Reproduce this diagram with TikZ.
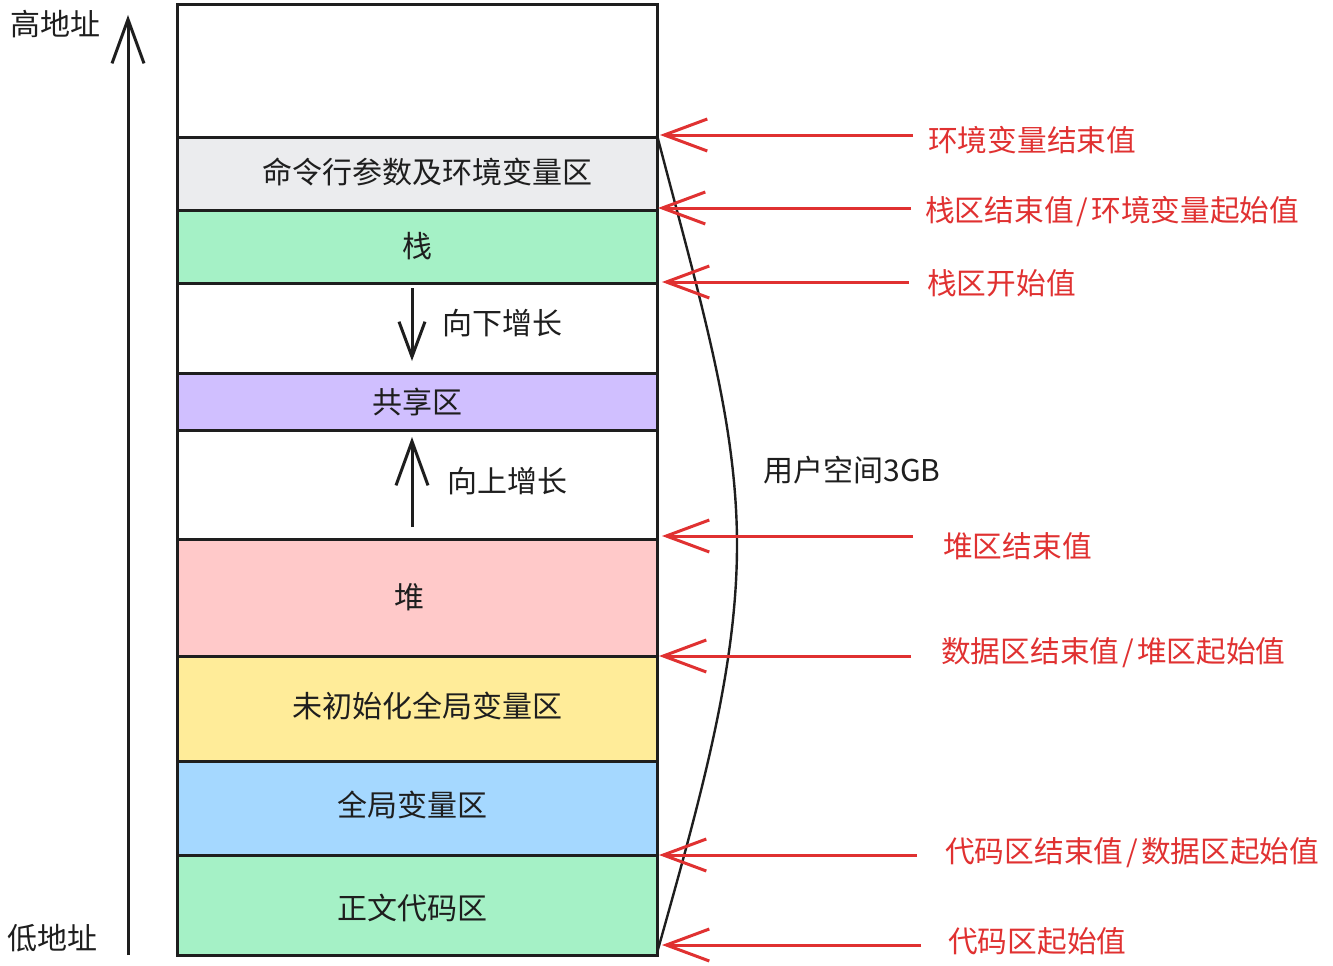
\documentclass[tikz,border=0pt]{standalone}
\usepackage{fontspec}
\setmainfont{Noto Sans CJK SC}
\usetikzlibrary{arrows.meta}
\definecolor{cgray}{HTML}{EBECEE}
\definecolor{cgreen}{HTML}{A5F1C6}
\definecolor{cpurple}{HTML}{D0BFFF}
\definecolor{cpink}{HTML}{FFC9C9}
\definecolor{cyellow}{HTML}{FFEC99}
\definecolor{cblue}{HTML}{A5D8FF}
\definecolor{cred}{HTML}{E03131}
\definecolor{cink}{HTML}{1E1E1E}
\newcommand{\slsh}{\hspace{3pt}/\hspace{3pt}}
\tikzset{
  seg/.style={draw=cink, line width=3pt},
  txt/.style={font=\fontsize{30}{32}\selectfont, text=cink, inner sep=0pt},
  rtxt/.style={font=\fontsize{29.7}{32}\selectfont, text=cred, inner sep=0pt, anchor=west},
  redarr/.style={draw=cred, line width=3pt, -{Straight Barb[length=43pt,width=32pt,line width=3pt]}},
  blkarr/.style={draw=cink, line width=3pt, -{Straight Barb[length=44pt,width=32pt,line width=3pt]}},
  smallarr/.style={draw=cink, line width=3pt, -{Straight Barb[length=35pt,width=26pt,line width=3pt]}},
}
\begin{document}
\begin{tikzpicture}[x=1pt,y=-1pt]
\useasboundingbox (0,0) rectangle (1333,966);
% boxes
\path[seg, fill=white] (177,5) rectangle (657,137);
\path[seg, fill=cgray] (177,137) rectangle (657,210);
\path[seg, fill=cgreen] (177,210) rectangle (657,283);
\path[seg, fill=white] (177,283) rectangle (657,373);
\path[seg, fill=cpurple] (177,373) rectangle (657,430);
\path[seg, fill=white] (177,430) rectangle (657,539);
\path[seg, fill=cpink] (177,539) rectangle (657,656);
\path[seg, fill=cyellow] (177,656) rectangle (657,761);
\path[seg, fill=cblue] (177,761) rectangle (657,855);
\path[seg, fill=cgreen] (177,855) rectangle (657,955);
% box labels
\node[txt] (env) at (427,172) {命令行参数及环境变量区};
\node[txt] (stack) at (417,246) {栈};
\node[txt] (down) at (502,323) {向下增长};
\node[txt] (shared) at (417,402) {共享区};
\node[txt] (up) at (507,481) {向上增长};
\node[txt] (heap) at (409,597) {堆};
\node[txt] (bss) at (427,706) {未初始化全局变量区};
\node[txt] (data) at (412,805) {全局变量区};
\node[txt] (text) at (412,908) {正文代码区};
% growth arrows
\coordinate (d0) at (412,288); \coordinate (d1) at (412,361);
\draw[smallarr] (d0) -- (d1);
\coordinate (u0) at (412,527); \coordinate (u1) at (412,437);
\draw[blkarr] (u0) -- (u1);
% address axis
\node[txt] (hi) at (55,24) {高地址};
\node[txt] (lo) at (53,938) {低地址};
\coordinate (a0) at (128,955); \coordinate (a1) at (128,15);
\draw[blkarr] (a0) -- (a1);
% user space curve
\coordinate (c0) at (657,135); \coordinate (cm) at (737,545); \coordinate (c1) at (657,953);
\draw[draw=cink, line width=2.4pt] (c0) .. controls (700,300) and (737,420) .. (cm) .. controls (737,670) and (700,800) .. (c1);
\node[txt] (user) at (852,470) {用户空间3GB};
% red labels and arrows
\node[rtxt] (r1) at (928,140) {环境变量结束值};
\node[rtxt] (r2) at (925,212) {栈区结束值\slsh 环境变量起始值};
\node[rtxt] (r3) at (927,283) {栈区开始值};
\node[rtxt] (r4) at (943,546) {堆区结束值};
\node[rtxt] (r5) at (941,653) {数据区结束值\slsh 堆区起始值};
\node[rtxt] (r6) at (945,853) {代码区结束值\slsh 数据区起始值};
\node[rtxt] (r7) at (948,941) {代码区起始值};
\coordinate (s1) at (913,135); \coordinate (t1) at (660,135);
\coordinate (s2) at (911,208); \coordinate (t2) at (658,208);
\coordinate (s3) at (909,282); \coordinate (t3) at (662,282);
\coordinate (s4) at (913,536); \coordinate (t4) at (662,536);
\coordinate (s5) at (911,656); \coordinate (t5) at (659,656);
\coordinate (s6) at (917,855); \coordinate (t6) at (659,855);
\coordinate (s7) at (921,945); \coordinate (t7) at (662,945);
\foreach \i in {1,...,7} { \draw[redarr] (s\i) -- (t\i); }
\end{tikzpicture}
\end{document}
